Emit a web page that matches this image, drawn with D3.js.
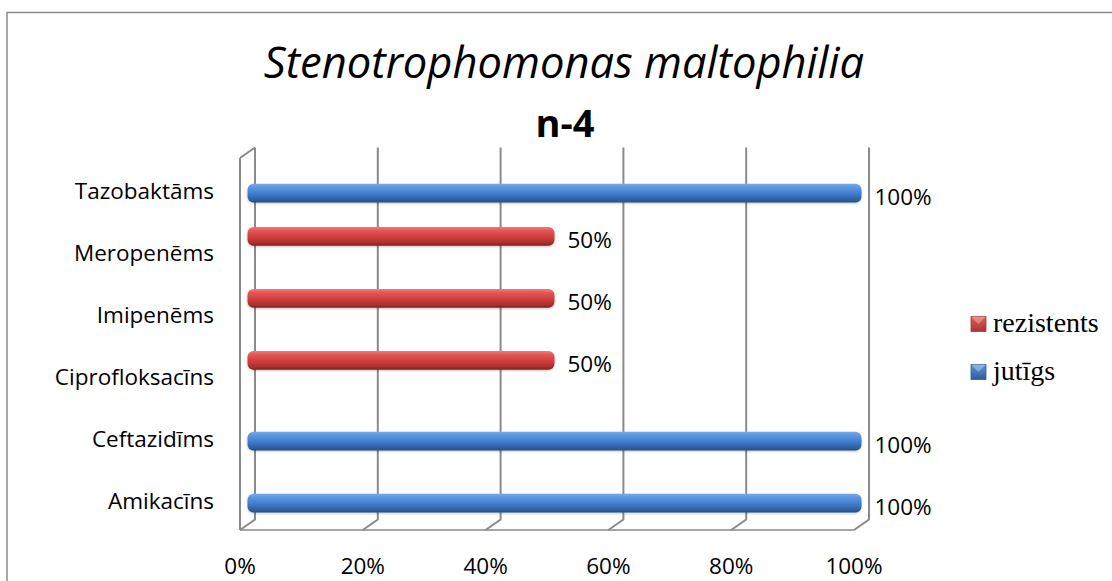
<!DOCTYPE html>
<html>
<head>
<meta charset="utf-8">
<script src="https://cdn.jsdelivr.net/npm/d3@7"></script>
<style>
  html, body { margin: 0; padding: 0; background: #fff; }
  svg { display: block; }
</style>
</head>
<body>
<script>
// Susceptibility of Stenotrophomonas maltophilia isolates (n = 4)
const categories = ["Amikacīns", "Ceftazidīms", "Ciprofloksacīns", "Imipenēms", "Meropenēms", "Tazobaktāms"];
const seriesNames = ["rezistents", "jutīgs"];
const rezistents = [null, null, 50, 50, 50, null];
const jutigs = [100, 100, null, null, null, 100];
const xTicks = [0, 20, 40, 60, 80, 100];
const titleText = "Stenotrophomonas maltophilia";
const subtitleText = "n-4";

const W = 1112, H = 581;
const sans = "'Open Sans', 'Noto Sans', sans-serif";
const depth = { dx: 15, dy: -10.5 };   // oblique offset of the back wall

const svg = d3.select("body").append("svg")
  .attr("width", W).attr("height", H);

const defs = svg.append("defs");
function barGradient(id, stops) {
  const g = defs.append("linearGradient").attr("id", id)
    .attr("x1", 0).attr("y1", 0).attr("x2", 0).attr("y2", 1);
  stops.forEach(([o, c]) => g.append("stop").attr("offset", o).attr("stop-color", c));
}
barGradient("grad-jutigs", [[0, "#79aae6"], [0.2, "#5d97e0"], [0.55, "#3f7bcf"], [0.85, "#2f619f"], [1, "#264d82"]]);
barGradient("grad-rezistents", [[0, "#f27b76"], [0.2, "#e45553"], [0.55, "#cf3d3b"], [0.85, "#a92f2d"], [1, "#7e2321"]]);
const shadow = defs.append("filter").attr("id", "barShadow")
  .attr("x", "-5%").attr("y", "-40%").attr("width", "110%").attr("height", "180%");
shadow.append("feDropShadow").attr("dx", 0).attr("dy", 1).attr("stdDeviation", 1.2)
  .attr("flood-color", "#000").attr("flood-opacity", 0.25);

const colorOf = { "rezistents": "url(#grad-rezistents)", "jutīgs": "url(#grad-jutigs)" };
const legendFill = { "rezistents": ["#e0605c", "#a93532"], "jutīgs": ["#5d95db", "#2c5d9a"] };

// Outer chart frame
svg.append("rect")
  .attr("x", 7).attr("y", 12.5).attr("width", W + 20).attr("height", H + 20)
  .attr("fill", "none").attr("stroke", "#8a8a8a").attr("stroke-width", 1.5);

// Titles
svg.append("text")
  .attr("x", 564).attr("y", 78)
  .attr("text-anchor", "middle")
  .attr("font-family", sans).attr("font-style", "italic")
  .attr("font-size", 43.5).attr("fill", "#000")
  .text(titleText);
svg.append("text")
  .attr("x", 565).attr("y", 137)
  .attr("text-anchor", "middle")
  .attr("font-family", sans).attr("font-weight", "bold")
  .attr("font-size", 38).attr("fill", "#000")
  .text(subtitleText);

// Scales (front plane of the 3-D box)
const x = d3.scaleLinear().domain([0, 100]).range([240, 854]);
const y = d3.scaleBand().domain(categories.slice().reverse()).range([158, 530]);
const ySub = d3.scaleBand().domain(seriesNames).range([0, y.bandwidth()])
  .paddingInner(0).paddingOuter(0.66);
const [yTop, yBottom] = y.range();

// Walls and gridlines
const grid = svg.append("g")
  .attr("fill", "none").attr("stroke", "#8a8a8a").attr("stroke-width", 2);
grid.append("line")
  .attr("x1", x(0)).attr("y1", yTop).attr("x2", x(0)).attr("y2", yBottom);
grid.append("line")
  .attr("x1", x(0)).attr("y1", yTop).attr("x2", x(0) + depth.dx).attr("y2", yTop + depth.dy);
grid.append("line")
  .attr("x1", x(0)).attr("y1", yBottom).attr("x2", x(100)).attr("y2", yBottom)
  .attr("stroke", "#a6a6a6");
grid.selectAll("path.gl").data(xTicks).join("path")
  .attr("class", "gl")
  .attr("d", v => {
    const p = d3.path();
    p.moveTo(x(v) + depth.dx, yTop + depth.dy);
    p.lineTo(x(v) + depth.dx, yBottom + depth.dy);
    p.lineTo(x(v), yBottom);
    return p.toString();
  });

// X tick labels
svg.append("g").selectAll("text").data(xTicks).join("text")
  .attr("x", v => x(v)).attr("y", 565)
  .attr("text-anchor", "middle").attr("dominant-baseline", "central")
  .attr("font-family", sans).attr("font-size", 22.5).attr("fill", "#000")
  .text(v => v + "%");

// Category labels
svg.append("g").selectAll("text").data(categories).join("text")
  .attr("x", 214).attr("y", c => y(c) + y.bandwidth() / 2 + 1)
  .attr("text-anchor", "end").attr("dominant-baseline", "central")
  .attr("font-family", sans).attr("font-size", 22.5).attr("fill", "#000")
  .text(c => c);

// Bars
const rows = [];
categories.forEach((c, i) => {
  if (rezistents[i] != null) rows.push({ cat: c, series: "rezistents", value: rezistents[i] });
  if (jutigs[i] != null) rows.push({ cat: c, series: "jutīgs", value: jutigs[i] });
});
const bh = ySub.bandwidth();
const barY = d => y(d.cat) + ySub(d.series) + depth.dy / 2;
const barX0 = x(0) + depth.dx / 2;

svg.append("g").selectAll("rect").data(rows).join("rect")
  .attr("x", barX0).attr("y", barY)
  .attr("width", d => x(d.value) - x(0)).attr("height", bh)
  .attr("rx", 6).attr("ry", 6)
  .attr("fill", d => colorOf[d.series])
  .attr("filter", "url(#barShadow)");

// Value labels
svg.append("g").selectAll("text").data(rows).join("text")
  .attr("x", d => barX0 + x(d.value) - x(0) + 13)
  .attr("y", d => barY(d) + bh / 2 + 3)
  .attr("dominant-baseline", "central")
  .attr("font-family", sans).attr("font-size", 22.5).attr("fill", "#000")
  .text(d => d.value + "%");

// Legend
const legend = svg.append("g");
const legendY = d3.scalePoint().domain(seriesNames).range([324, 372]);
seriesNames.forEach(s => {
  const gid = "lg-" + (s === "jutīgs" ? "jutigs" : s);
  barGradient(gid, [[0, legendFill[s][0]], [1, legendFill[s][1]]]);
  legend.append("rect")
    .attr("x", 971).attr("y", legendY(s) - 7.5).attr("width", 15).attr("height", 15)
    .attr("fill", `url(#${gid})`).attr("stroke", legendFill[s][1]).attr("stroke-width", 0.8);
  legend.append("path")
    .attr("d", `M${971},${legendY(s) - 7.5}L${986},${legendY(s) - 7.5}L${978.5},${legendY(s)}Z`)
    .attr("fill", "#fff").attr("fill-opacity", 0.3);
  legend.append("text")
    .attr("x", 993).attr("y", legendY(s) + 8)
    .attr("font-family", "'Liberation Serif', 'Times New Roman', serif")
    .attr("font-size", 28).attr("fill", "#000")
    .text(s);
});
</script>
</body>
</html>
